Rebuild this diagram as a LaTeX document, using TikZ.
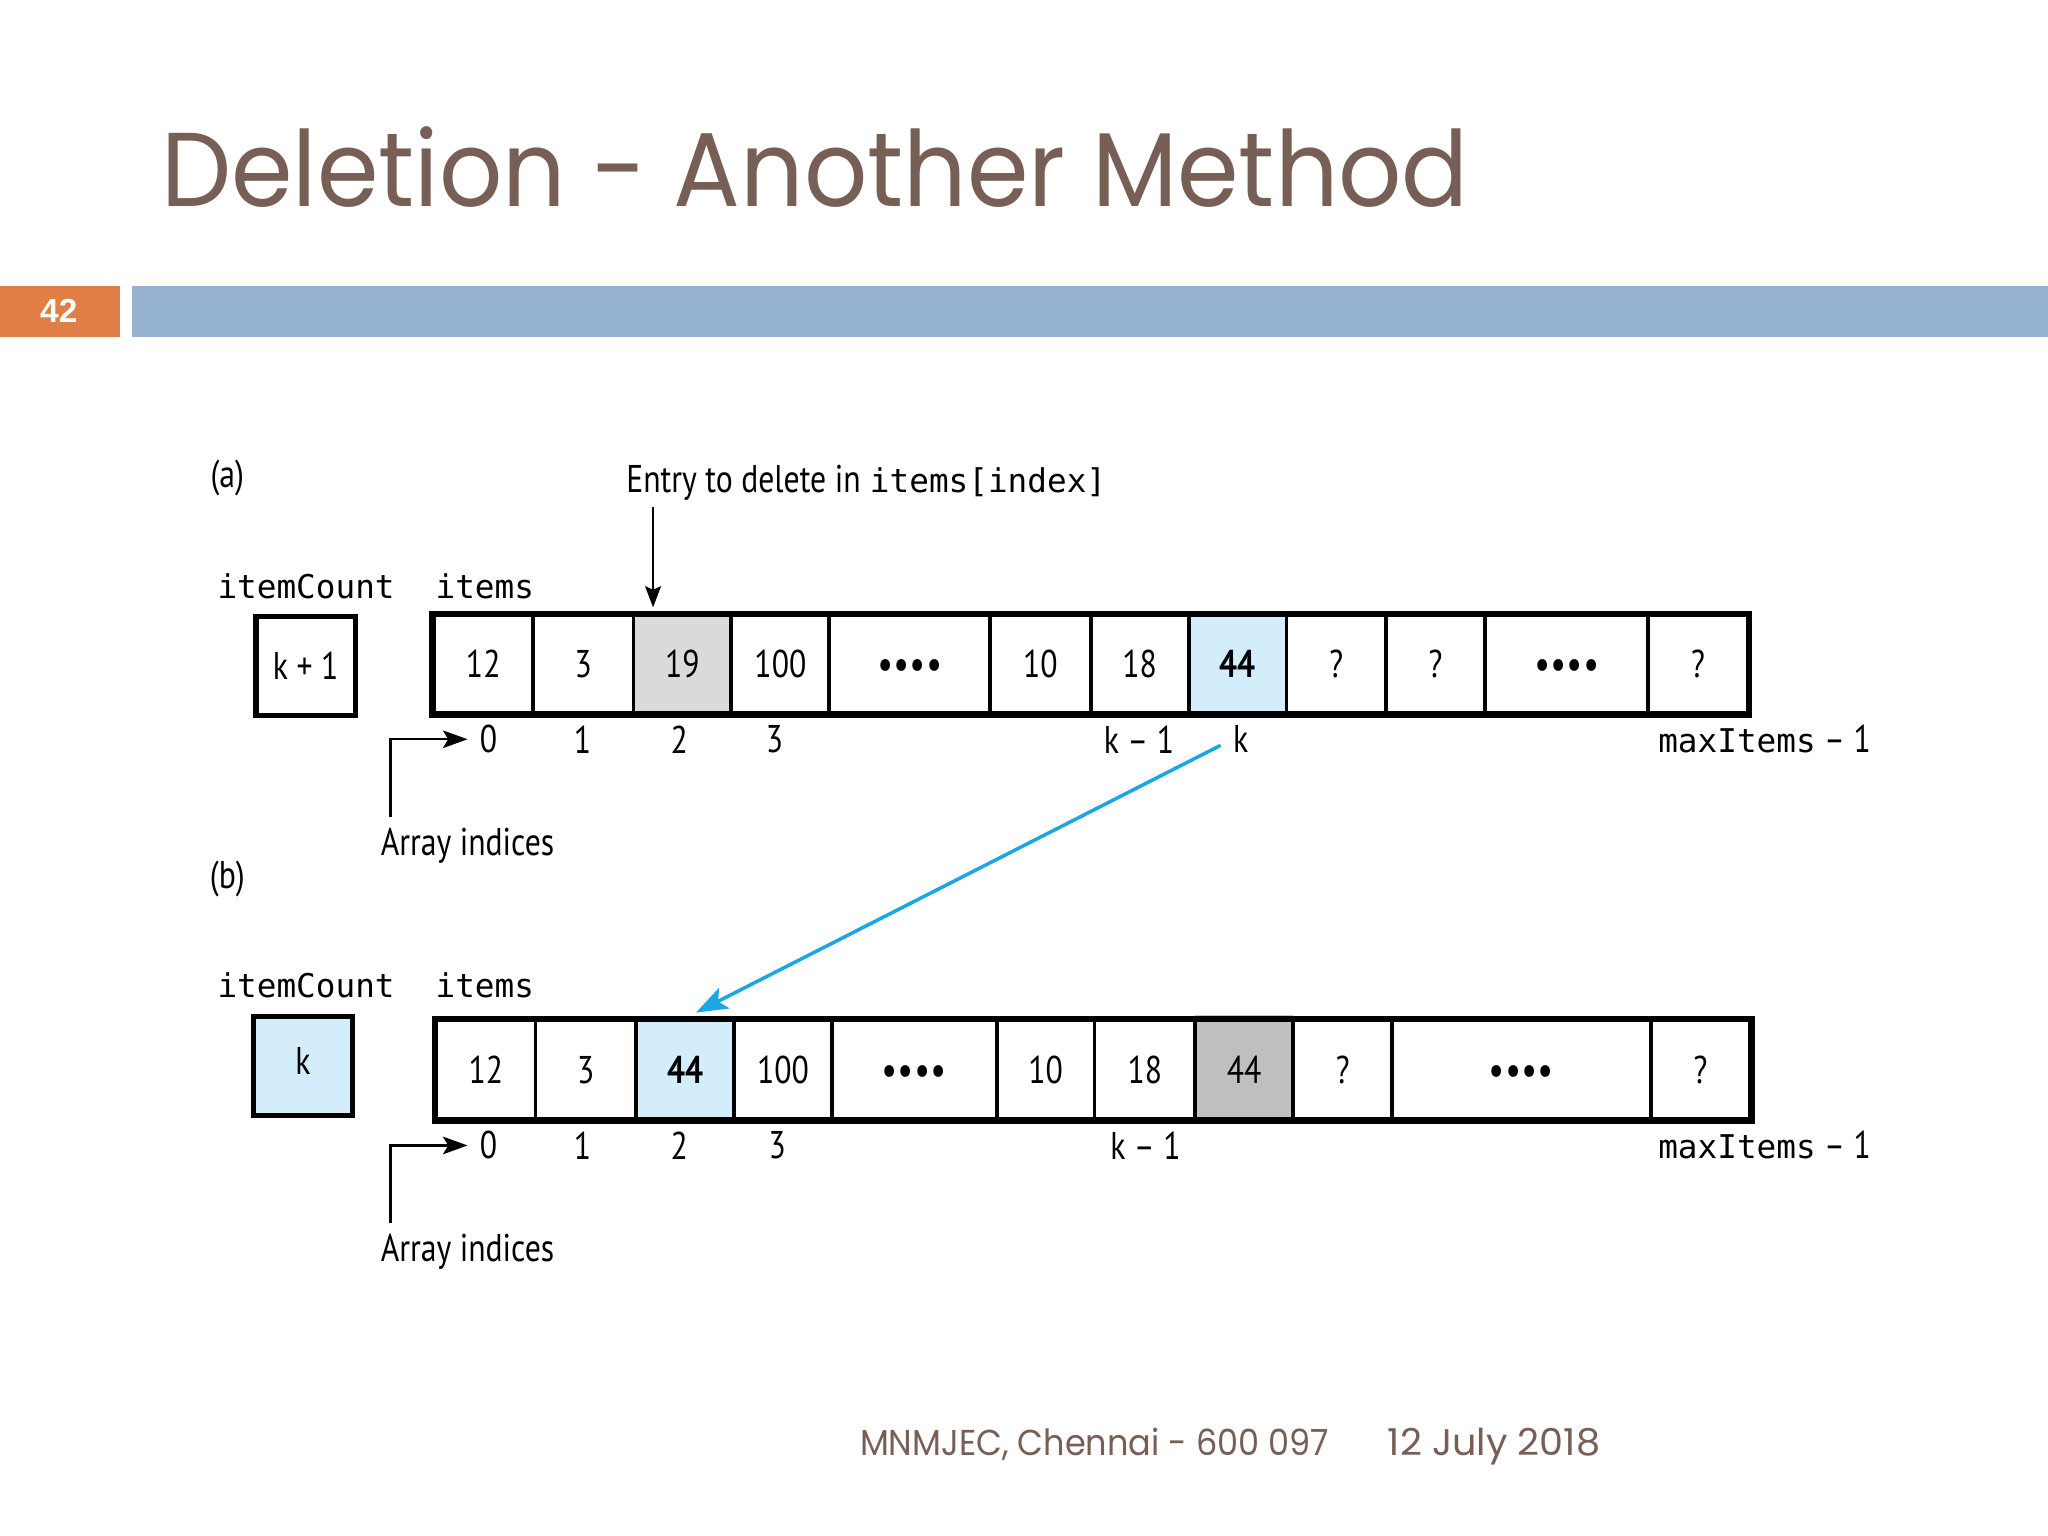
\documentclass[tikz,border=0pt]{standalone}
\usepackage{fontspec}
\usepackage{graphicx}
\usetikzlibrary{arrows.meta,calc}
\setmainfont{PT Sans}
\newfontfamily\titlefont{Poppins}
\newfontfamily\numfont{Liberation Sans}
\newfontfamily\dmono{DejaVu Sans Mono}
\newfontfamily\dsans{PT Sans}
\definecolor{titlebrown}{HTML}{775F55}
\definecolor{slideorange}{HTML}{DF7F45}
\definecolor{barblue}{HTML}{95B3D1}
\definecolor{arrowcyan}{HTML}{1CA6E4}
\definecolor{lightblue}{HTML}{D4EDFB}
\definecolor{grayA}{HTML}{DADADA}
\definecolor{grayB}{HTML}{BFBFBF}
\newcommand\ds[1]{\scalebox{0.82}[1]{\dsans\fontsize{11}{13}\selectfont #1}}
\newcommand\dm[1]{{\dmono\fontsize{9.3}{11}\selectfont #1}}
\newcommand\celldots{\raisebox{-3.8pt}[0pt][0pt]{\ds{\textbf{•\kern0.7pt•\kern0.7pt•\kern0.7pt•}}}}
\def\un{0.013061cm}
\def\rowy{0}
\def\rowh{75}
\newcommand\mkcell[5]{\node[cellbox,#4,minimum width={(#3-#2)*\un},minimum height={\rowh*\un}] (#1) at ({(#2+#3)/2},\rowy) {#5};}
\tikzset{
  cellbox/.style={draw=black,line width=1.1pt,inner sep=0pt,fill=white},
  outerln/.style={draw=black,line width=1.5pt},
  countbox/.style={draw=black,line width=1.5pt,inner sep=0pt,minimum width={76*\un},minimum height={76*\un}},
  idx/.style={inner sep=0pt},
  lbl/.style={inner sep=0pt,anchor=base west},
  ptr/.style={draw=black,line width=0.6pt,-{Stealth[length=7pt,width=5pt,inset=1.5pt]}},
  downarr/.style={draw=black,line width=0.7pt,-{Stealth[length=6pt,width=4.5pt,inset=1pt]}},
  movearr/.style={draw=arrowcyan,line width=1pt,-{Stealth[length=9pt,width=6.5pt,inset=2pt]}},
}
\begin{document}
\begin{tikzpicture}[x=0.013061cm,y=-0.013061cm]
\useasboundingbox[fill=white] (0,0) rectangle (1568,1176);
% header
\node[inner sep=0pt,anchor=base west,text=titlebrown] (title) at (123,158)
  {\resizebox*{372pt}{23pt}{\titlefont Deletion - Another Method}};
\fill[slideorange] (0,219) rectangle (92,258);
\fill[barblue] (101,219) rectangle (1568,258);
\node[text=white,inner sep=0pt] (num) at (45,238) {\numfont\bfseries\fontsize{9.5}{11}\selectfont 42};
% ---------- (a) ----------
\node[idx] (la) at (174,366) {\ds{(a)}};
\node[lbl] (entry) at (479,377) {\ds{Entry to delete in} \dm{items[index]}};
\coordinate (entrytip) at (500,465);
\draw[downarr] ([shift={(21,11)}]entry.base west) -- (entrytip);
\node[lbl] (icA) at (166,458) {\dm{itemCount}};
\node[lbl] (itA) at (333,458) {\dm{items}};
\node[countbox] (cA) at (234,510) {\ds{k + 1}};
\def\rowy{508.5}\def\rowh{75}
\mkcell{a1}{332}{408}{}{\ds{12}}
\mkcell{a2}{408}{485}{}{\ds{3}}
\mkcell{a3}{485}{560}{fill=grayA}{\ds{19}}
\mkcell{a4}{560}{635}{}{\ds{100}}
\mkcell{a5}{635}{758}{}{\celldots}
\mkcell{a6}{758}{835}{}{\ds{10}}
\mkcell{a7}{835}{910}{}{\ds{18}}
\mkcell{a8}{910}{985}{fill=lightblue}{\ds{\textbf{44}}}
\mkcell{a9}{985}{1061}{}{\ds{?}}
\mkcell{a10}{1061}{1137}{}{\ds{?}}
\mkcell{a11}{1137}{1262}{}{\celldots}
\mkcell{a12}{1262}{1338}{}{\ds{?}}
\draw[outerln] (a1.north west) rectangle (a12.south east);
\node[idx] (ia0) at (374,566) {\ds{0}};
\node[idx] (ia1) at (446,566) {\ds{1}};
\node[idx] (ia2) at (520,566) {\ds{2}};
\node[idx] (ia3) at (593,566) {\ds{3}};
\node[idx] (iak1) at (872,566) {\ds{k – 1}};
\node[idx] (iak) at (950,566) {\ds{k}};
\node[idx] (iamax) at (1351,566) {\dm{maxItems}\ds{ – 1}};
\node[lbl] (aiA) at (291,655) {\ds{Array indices}};
\draw[ptr,shorten >=3.3pt] ([shift={(8,-8)}]aiA.north west) |- (ia0.west);
% ---------- (b) ----------
\node[idx] (lb) at (174,673) {\ds{(b)}};
\node[lbl] (icB) at (166,764) {\dm{itemCount}};
\node[lbl] (itB) at (333,764) {\dm{items}};
\node[countbox,fill=lightblue] (cB) at (232,816) {\raisebox{3pt}{\ds{k}}};
\def\rowy{819}\def\rowh{76}
\fill[grayB!85] (915,777) rectangle (990,782);
\mkcell{b1}{334}{410}{}{\ds{12}}
\mkcell{b2}{410}{487}{}{\ds{3}}
\mkcell{b3}{487}{562}{fill=lightblue}{\ds{\textbf{44}}}
\mkcell{b4}{562}{637}{}{\ds{100}}
\mkcell{b5}{637}{763}{}{\celldots}
\mkcell{b6}{763}{838}{}{\ds{10}}
\mkcell{b7}{838}{915}{}{\ds{18}}
\mkcell{b8}{915}{990}{fill=grayB}{\ds{44}}
\mkcell{b9}{990}{1066}{}{\ds{?}}
\mkcell{b10}{1066}{1264}{}{\celldots}
\mkcell{b11}{1264}{1340}{}{\ds{?}}
\draw[outerln] (b1.north west) rectangle (b11.south east);
\node[idx] (ib0) at (374,877) {\ds{0}};
\node[idx] (ib1) at (446,877) {\ds{1}};
\node[idx] (ib2) at (520,877) {\ds{2}};
\node[idx] (ib3) at (595,877) {\ds{3}};
\node[idx] (ibk1) at (877,877) {\ds{k – 1}};
\node[idx] (ibmax) at (1351,877) {\dm{maxItems}\ds{ – 1}};
\node[lbl] (aiB) at (291,966) {\ds{Array indices}};
\draw[ptr,shorten >=3.3pt] ([shift={(8,-8)}]aiB.north west) |- (ib0.west);
% move arrow
\draw[movearr,shorten <=3.8pt,shorten >=3.5pt] (iak.west) -- (b3.north);
% footer
\node[inner sep=0pt,anchor=base west,text=titlebrown] (foot1) at (658,1114)
  {\resizebox{133.4pt}{7.8pt}{\titlefont MNMJEC, Chennai - 600 097}};
\node[inner sep=0pt,anchor=base west,text=titlebrown] (foot2) at (1062,1114)
  {\resizebox{60.4pt}{7.8pt}{\titlefont 12 July 2018}};
\end{tikzpicture}
\end{document}
